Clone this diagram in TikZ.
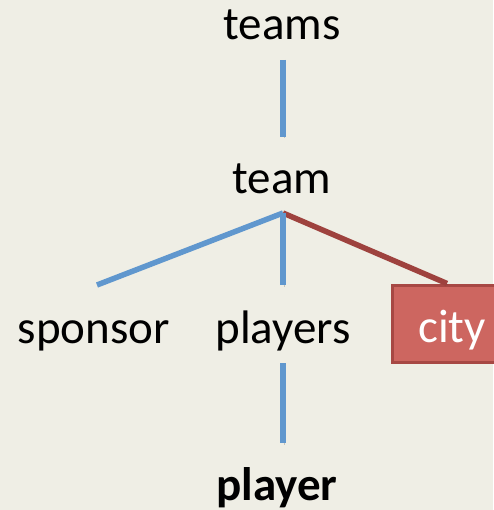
\documentclass[tikz,border=0pt]{standalone}
\usepackage{fontspec}
\setmainfont{Carlito}
\definecolor{paper}{RGB}{239,238,229}
\definecolor{treeblue}{RGB}{96,151,206}
\definecolor{treered}{RGB}{158,66,62}
\definecolor{cityfill}{RGB}{205,102,96}
\definecolor{cityedge}{RGB}{167,72,68}
\tikzset{
  lbl/.style={inner sep=0pt,anchor=base,font=\fontsize{47}{56}\selectfont},
  link/.style={line width=5.5pt,draw=treeblue,
    preaction={draw=black,opacity=.18,transform canvas={shift={(1pt,-1.5pt)}}}},
  redlink/.style={link,draw=treered},
  citybox/.style={lbl,draw=cityedge,fill=cityfill,line width=3pt,text=white,
    minimum width=120pt,text height=57pt,text depth=20pt}
}
\begin{document}
\begin{tikzpicture}[x=1pt,y=-1pt]
\useasboundingbox (0,0) rectangle (493,510);
\fill[paper] (0,0) rectangle (493,510);
% labels
\node[lbl] (teams) at (282,40) {teams};
\node[lbl] (team) at (282,194) {team};
\node[lbl] (sponsor) at (94,343) {sponsor};
\node[lbl] (players) at (283,343) {players};
\node[citybox] (city) at (452,342) {city};
\node[lbl] (player) at (277,500) {\bfseries player};
\coordinate (fork) at ([xshift=1pt,yshift=-19pt]team.base);
% tree lines
\draw[link] ([xshift=1pt,yshift=-20pt]teams.base) -- ([xshift=1pt,yshift=57pt]team.base);
\draw[redlink] (fork) -- ([xshift=-5pt]city.north);
\draw[link] (fork) -- ([xshift=3pt,yshift=58pt]sponsor.base);
\draw[link] (fork) -- ([yshift=58pt]players.base);
\draw[link] ([yshift=-20pt]players.base) -- ([xshift=6pt,yshift=57pt]player.base);
\end{tikzpicture}
\end{document}
